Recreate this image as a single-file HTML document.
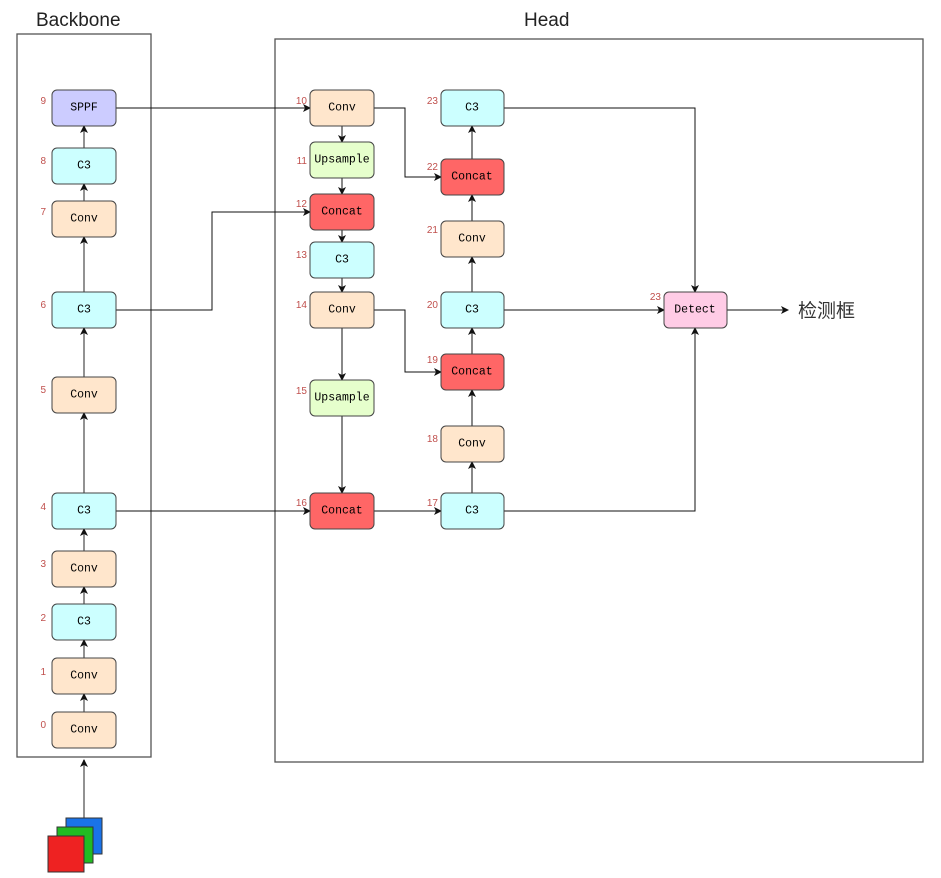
<!DOCTYPE html><html><head><meta charset="utf-8"><style>body{margin:0;background:#fff}svg{display:block}
.n{stroke:#444;stroke-width:1}.t{font-family:"Liberation Mono",monospace;font-size:11.5px;text-anchor:middle;dominant-baseline:central}
.l{font-family:"Liberation Sans",sans-serif;font-size:10px;fill:#c0504d;text-anchor:end}
.e{fill:none;stroke:#111;stroke-width:1}.g{fill:none;stroke:#777;stroke-width:1.6}</style></head><body>
<svg width="941" height="878" viewBox="0 0 941 878">
<defs><marker id="a" markerWidth="8" markerHeight="8" refX="7" refY="4" orient="auto" markerUnits="userSpaceOnUse"><path d="M0,0L8,4L0,8L2,4z" fill="#111"/></marker></defs>
<text x="36" y="26" font-family="Liberation Sans,sans-serif" font-size="19" fill="#222">Backbone</text>
<text x="524" y="26" font-family="Liberation Sans,sans-serif" font-size="19" fill="#222">Head</text>
<rect x="17" y="34" width="134" height="723" fill="none" stroke="#555" stroke-width="1.3"/>
<rect x="275" y="39" width="648" height="723" fill="none" stroke="#555" stroke-width="1.3"/>
<!-- backbone edges -->
<g class="g" marker-end="url(#a)">
<path d="M84,818V760"/><path d="M84,712V694"/><path d="M84,658V640"/><path d="M84,604V587"/><path d="M84,551V529"/><path d="M84,493V413"/><path d="M84,377V328"/><path d="M84,292V237"/><path d="M84,201V184"/><path d="M84,148V126"/>
</g>
<g class="e" marker-end="url(#a)">
<path d="M116,108H310"/><path d="M116,310H212V212H310"/><path d="M116,511H310"/>
<path d="M342,126V142"/><path d="M342,178V194"/><path d="M342,230V242"/><path d="M342,278V292"/><path d="M342,328V380"/><path d="M342,416V493"/>
<path d="M374,108H405V177H441"/><path d="M374,310H405V372H441"/><path d="M374,511H441"/>
<path d="M472,493V462"/><path d="M472,426V390"/><path d="M472,354V328"/><path d="M472,292V257"/><path d="M472,221V195"/><path d="M472,159V126"/>
<path d="M504,108H695V292"/><path d="M504,310H664"/><path d="M504,511H695V328"/><path d="M727,310H788"/>
</g>
<!-- input -->
<rect x="66" y="818" width="36" height="36" fill="#1a73e8" stroke="#333"/>
<rect x="57" y="827" width="36" height="36" fill="#22bb22" stroke="#333"/>
<rect x="48" y="836" width="36" height="36" fill="#ee2222" stroke="#333"/>
<!-- backbone nodes -->
<g class="n">
<rect x="52" y="90" width="64" height="36" rx="5" fill="#ccccff"/>
<rect x="52" y="148" width="64" height="36" rx="5" fill="#ccffff"/>
<rect x="52" y="201" width="64" height="36" rx="5" fill="#ffe6cc"/>
<rect x="52" y="292" width="64" height="36" rx="5" fill="#ccffff"/>
<rect x="52" y="377" width="64" height="36" rx="5" fill="#ffe6cc"/>
<rect x="52" y="493" width="64" height="36" rx="5" fill="#ccffff"/>
<rect x="52" y="551" width="64" height="36" rx="5" fill="#ffe6cc"/>
<rect x="52" y="604" width="64" height="36" rx="5" fill="#ccffff"/>
<rect x="52" y="658" width="64" height="36" rx="5" fill="#ffe6cc"/>
<rect x="52" y="712" width="64" height="36" rx="5" fill="#ffe6cc"/>
<rect x="310" y="90" width="64" height="36" rx="5" fill="#ffe6cc"/>
<rect x="310" y="142" width="64" height="36" rx="5" fill="#e6ffcc"/>
<rect x="310" y="194" width="64" height="36" rx="5" fill="#ff6666"/>
<rect x="310" y="242" width="64" height="36" rx="5" fill="#ccffff"/>
<rect x="310" y="292" width="64" height="36" rx="5" fill="#ffe6cc"/>
<rect x="310" y="380" width="64" height="36" rx="5" fill="#e6ffcc"/>
<rect x="310" y="493" width="64" height="36" rx="5" fill="#ff6666"/>
<rect x="441" y="90" width="63" height="36" rx="5" fill="#ccffff"/>
<rect x="441" y="159" width="63" height="36" rx="5" fill="#ff6666"/>
<rect x="441" y="221" width="63" height="36" rx="5" fill="#ffe6cc"/>
<rect x="441" y="292" width="63" height="36" rx="5" fill="#ccffff"/>
<rect x="441" y="354" width="63" height="36" rx="5" fill="#ff6666"/>
<rect x="441" y="426" width="63" height="36" rx="5" fill="#ffe6cc"/>
<rect x="441" y="493" width="63" height="36" rx="5" fill="#ccffff"/>
<rect x="664" y="292" width="63" height="36" rx="5" fill="#ffcce6"/>
</g>
<g class="t">
<text x="84" y="108">SPPF</text><text x="84" y="166">C3</text><text x="84" y="219">Conv</text><text x="84" y="310">C3</text><text x="84" y="395">Conv</text><text x="84" y="511">C3</text><text x="84" y="569">Conv</text><text x="84" y="622">C3</text><text x="84" y="676">Conv</text><text x="84" y="730">Conv</text>
<text x="342" y="108">Conv</text><text x="342" y="160">Upsample</text><text x="342" y="212">Concat</text><text x="342" y="260">C3</text><text x="342" y="310">Conv</text><text x="342" y="398">Upsample</text><text x="342" y="511">Concat</text>
<text x="472" y="108">C3</text><text x="472" y="177">Concat</text><text x="472" y="239">Conv</text><text x="472" y="310">C3</text><text x="472" y="372">Concat</text><text x="472" y="444">Conv</text><text x="472" y="511">C3</text>
<text x="695" y="310">Detect</text>
</g>
<g class="l">
<text x="46" y="104">9</text><text x="46" y="164">8</text><text x="46" y="215">7</text><text x="46" y="308">6</text><text x="46" y="393">5</text><text x="46" y="510">4</text><text x="46" y="567">3</text><text x="46" y="621">2</text><text x="46" y="675">1</text><text x="46" y="728">0</text>
<text x="307" y="104">10</text><text x="307" y="164">11</text><text x="307" y="207">12</text><text x="307" y="258">13</text><text x="307" y="308">14</text><text x="307" y="394">15</text><text x="307" y="506">16</text>
<text x="438" y="104">23</text><text x="438" y="170">22</text><text x="438" y="233">21</text><text x="438" y="308">20</text><text x="438" y="363">19</text><text x="438" y="442">18</text><text x="438" y="506">17</text>
<text x="661" y="300">23</text>
</g>
<text x="798" y="317" font-family="Liberation Sans,Noto Sans CJK SC,sans-serif" font-size="19" fill="#333">检测框</text>
</svg></body></html>
